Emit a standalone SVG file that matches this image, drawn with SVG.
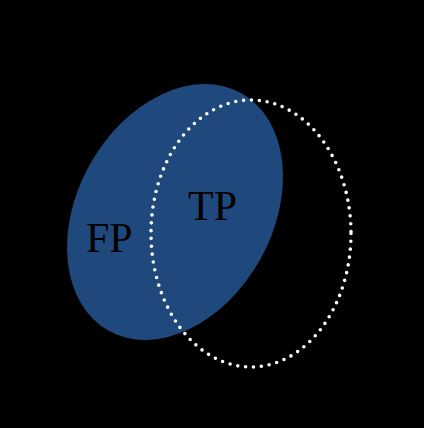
<svg xmlns="http://www.w3.org/2000/svg" width="424" height="428" viewBox="0 0 424 428">
<style>
.lbl{font-family:"Liberation Serif","Times New Roman",serif;font-size:42px;fill:#000}
</style>
<rect x="0" y="0" width="424" height="428" fill="#000"/>
<g id="predicted">
<ellipse cx="175" cy="212" rx="97.6" ry="136" transform="rotate(29.2 175 212)" fill="#1f497d"/>
</g>
<g id="actual">
<ellipse cx="251" cy="233.5" rx="100" ry="133.5" fill="none" stroke="#fff" stroke-width="3.6" stroke-linecap="round" stroke-dasharray="0 7.9"/>
</g>
<g id="label-fp"><text class="lbl" x="86" y="252">FP</text></g>
<g id="label-tp"><text class="lbl" x="188" y="220">TP</text></g>
</svg>
